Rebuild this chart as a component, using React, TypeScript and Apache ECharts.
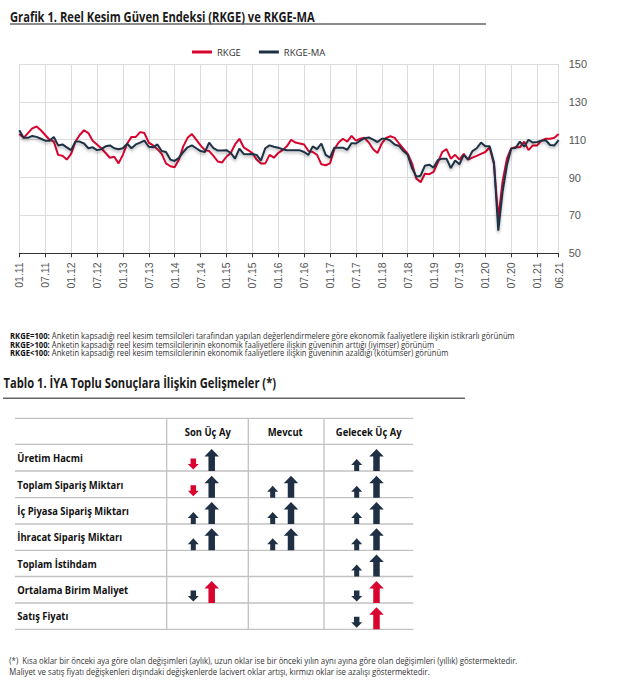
import React, { useEffect, useRef } from 'react';
import * as echarts from 'echarts';

// ---------- DATA ----------
const categories: string[] = [];
for (let y = 11; y <= 21; y++) {
  for (let m = 1; m <= 12; m++) {
    if (y === 21 && m > 6) break;
    categories.push(`${String(m).padStart(2, '0')}.${y}`);
  }
}

const rkge = [
  113.0, 111.0, 113.5, 116.0, 117.0, 115.0, 112.5, 110.0, 109.0, 102.0, 101.5, 99.5,
  102.5, 109.0, 112.5, 115.0, 113.5, 109.5, 107.5, 105.5, 103.0, 100.5, 101.0, 97.5,
  102.0, 108.0, 111.5, 111.5, 114.0, 113.5, 108.5, 107.0, 105.0, 102.5, 97.5, 96.0,
  95.5, 99.5, 106.5, 111.0, 113.0, 110.0, 107.0, 104.5, 104.0, 101.5, 98.5, 98.0,
  101.0, 103.0, 107.5, 110.5, 106.0, 104.5, 103.0, 99.5, 97.5, 97.5, 102.0, 100.5,
  103.0, 104.5, 106.5, 110.0, 108.5, 108.0, 107.5, 104.0, 103.5, 102.0, 97.0, 96.5,
  97.5, 105.0, 108.5, 110.5, 109.0, 112.0, 109.5, 110.5, 111.0, 108.5, 105.0, 103.0,
  108.0, 111.0, 111.8, 111.0, 108.0, 105.3, 102.6, 97.5, 89.5, 87.5, 92.0, 91.8,
  93.0, 98.0, 103.5, 105.0, 100.0, 102.0, 99.5, 102.5, 99.5, 100.5, 101.5, 102.5,
  103.5, 106.0, 97.0, 68.5, 88.0, 100.0, 105.5, 106.0, 106.0, 109.0, 104.5, 107.0,
  107.0, 109.5, 110.5, 110.5, 111.0, 113.0,
];

const rkgeMA = [
  115.0, 111.0, 111.0, 112.0, 111.5, 110.5, 109.5, 109.5, 111.5, 107.0, 107.5, 106.0,
  104.5, 109.0, 109.0, 108.0, 105.5, 106.0, 104.5, 105.0, 106.5, 107.0, 105.5, 105.0,
  105.5, 107.9, 105.5, 107.5, 108.5, 109.5, 106.3, 106.0, 107.5, 104.0, 103.5, 99.5,
  98.8, 100.5, 103.5, 106.0, 107.0, 105.5, 104.0, 103.5, 108.5, 105.5, 104.3, 104.3,
  104.5, 103.0, 100.0, 105.3, 102.5, 102.3, 102.5, 102.0, 99.0, 105.5, 107.0, 106.3,
  105.8, 105.0, 104.4, 104.5, 104.5, 104.4, 103.5, 102.0, 106.5, 105.0, 108.0, 102.0,
  100.5, 105.8, 105.8, 105.8, 104.7, 108.2, 108.0, 109.5, 110.8, 111.2, 110.0, 108.8,
  110.5, 110.5, 109.5, 107.5, 106.7, 104.0, 102.0, 95.0, 90.5, 91.0, 96.3, 96.8,
  95.3, 99.3, 100.0, 100.0, 95.0, 99.0, 97.0, 102.0, 99.5, 104.0, 105.5, 108.5,
  106.5, 106.5, 98.0, 62.0, 82.5, 96.5, 105.3, 105.6, 109.0, 106.3, 110.0, 108.5,
  108.8, 109.5, 109.7, 107.2, 107.0, 109.8,
];

const yMin = 50;
const yMax = 150;
const yInterval = 20;

const chartTitle = 'Grafik 1. Reel Kesim Güven Endeksi (RKGE) ve RKGE-MA';
const tableTitle = 'Tablo 1. İYA Toplu Sonuçlara İlişkin Gelişmeler (*)';

const notes: [string, string][] = [
  ['RKGE=100:', ' Anketin kapsadığı reel kesim temsilcileri tarafından yapılan değerlendirmelere göre ekonomik faaliyetlere ilişkin istikrarlı görünüm'],
  ['RKGE>100:', ' Anketin kapsadığı reel kesim temsilcilerinin ekonomik faaliyetlere ilişkin güveninin arttığı (iyimser) görünüm'],
  ['RKGE<100:', ' Anketin kapsadığı reel kesim temsilcilerinin ekonomik faaliyetlere ilişkin güveninin azaldığı (kötümser) görünüm'],
];

const columnHeaders = ['Son Üç Ay', 'Mevcut', 'Gelecek Üç Ay'];
const rowLabels = [
  'Üretim Hacmi',
  'Toplam Sipariş Miktarı',
  'İç Piyasa Sipariş Miktarı',
  'İhracat Sipariş Miktarı',
  'Toplam İstihdam',
  'Ortalama Birim Maliyet',
  'Satış Fiyatı',
];
// cell = "short/long": u=up d=down, N=navy R=red ; '' = empty
const tableCells = [
  ['dR/uN', '', 'uN/uN'],
  ['dR/uN', 'uN/uN', 'uN/uN'],
  ['uN/uN', 'uN/uN', 'uN/uN'],
  ['uN/uN', 'uN/uN', 'uN/uN'],
  ['', '', 'uN/uN'],
  ['dN/uR', '', 'dN/uR'],
  ['', '', 'dN/uR'],
];

const footnotes = [
  '(*)  Kısa oklar bir önceki aya göre olan değişimleri (aylık), uzun oklar ise bir önceki yılın aynı ayına göre olan değişimleri (yıllık) göstermektedir.',
  'Maliyet ve satış fiyatı değişkenleri dışındaki değişkenlerde lacivert oklar artışı, kırmızı oklar ise azalışı göstermektedir.',
];

// ---------- STYLE ----------
const RED = '#d9042e';
const NAVY = '#1f3044';
const FONT = '"Open Sans"';

let ctx: CanvasRenderingContext2D | null = null;
function measure(text: string, font: string): number {
  if (!ctx) ctx = document.createElement('canvas').getContext('2d');
  ctx!.font = font;
  return ctx!.measureText(text).width;
}

function arrowPoints(cx: number, bottom: number, dir: string, W: number, S: number, H: number, Hh: number) {
  const top = bottom - H;
  if (dir === 'u') {
    const neck = top + Hh;
    return [[cx - S / 2, bottom], [cx - S / 2, neck], [cx - W / 2, neck], [cx, top], [cx + W / 2, neck], [cx + S / 2, neck], [cx + S / 2, bottom]];
  }
  const neck = bottom - Hh;
  return [[cx - S / 2, top], [cx - S / 2, neck], [cx - W / 2, neck], [cx, bottom], [cx + W / 2, neck], [cx + S / 2, neck], [cx + S / 2, top]];
}

function txt(text: string, x: number, y: number, font: string, fill: string, scaleX: number, align = 'left') {
  return {
    type: 'text',
    x,
    y,
    scaleX,
    silent: true,
    style: { text, font, fill, align, verticalAlign: 'middle', textAlign: align, textVerticalAlign: 'middle' },
  };
}

function buildGraphics() {
  const g: any[] = [];
  const titleFont = `bold 14px ${FONT}`;
  const titleScale = 305 / measure(chartTitle, titleFont);
  g.push(txt(chartTitle, 10, 16, titleFont, '#1a1a1a', titleScale));
  g.push({ type: 'line', shape: { x1: 10, y1: 24, x2: 486, y2: 24 }, style: { stroke: '#666', lineWidth: 1.5 } });

  // notes
  const nb = `bold 9px ${FONT}`;
  const nn = `9px ${FONT}`;
  const noteScale = 505 / (measure(notes[0][0], nb) + measure(notes[0][1], nn));
  const noteY = [335.7, 344.0, 352.3];
  notes.forEach((n, i) => {
    g.push(txt(n[0], 10, noteY[i], nb, '#111', noteScale));
    const w = measure(n[0], nb) * noteScale;
    g.push(txt(n[1], 10 + w, noteY[i], nn, '#333', noteScale));
  });

  // table title
  g.push(txt(tableTitle, 3.5, 382.3, titleFont, '#1a1a1a', titleScale));
  g.push({ type: 'line', shape: { x1: 3, y1: 398.3, x2: 465, y2: 398.3 }, style: { stroke: '#666', lineWidth: 1.5 } });

  // table grid
  const rowLines = [418.3, 444.3, 471, 497.7, 524, 550.3, 576.5, 603, 629.3];
  const colLines = [166.7, 248.3, 324];
  const tLeft = 15, tRight = 413.3;
  rowLines.forEach((y) => g.push({ type: 'line', shape: { x1: tLeft, y1: y, x2: tRight, y2: y }, style: { stroke: '#c2c2c2', lineWidth: 1.3 } }));
  colLines.forEach((x) => g.push({ type: 'line', shape: { x1: x, y1: rowLines[0], x2: x, y2: rowLines[rowLines.length - 1] }, style: { stroke: '#c2c2c2', lineWidth: 1.3 } }));

  const lf = `bold 10.5px ${FONT}`;
  const labelScale = 111 / measure('Ortalama Birim Maliyet', lf);
  const headerX = [207.8, 285.2, 368.7];
  columnHeaders.forEach((h, i) => g.push(txt(h, headerX[i], 431.7, lf, '#111', labelScale, 'center')));
  rowLabels.forEach((r, i) => {
    const yc = (rowLines[i + 1] + rowLines[i + 2]) / 2;
    g.push(txt(r, 17.3, yc, lf, '#111', labelScale));
  });

  const smallX = [193.3, 272.7, 356.7];
  const bigX = [211.7, 291, 376.5];
  tableCells.forEach((row, ri) => {
    const bottom = rowLines[ri + 2];
    row.forEach((cell, ci) => {
      if (!cell) return;
      const [s, l] = cell.split('/');
      const sDir = s[0], sCol = s[1] === 'R' ? RED : NAVY;
      const lDir = l[0], lCol = l[1] === 'R' ? RED : NAVY;
      const sp = sDir === 'u'
        ? arrowPoints(smallX[ci], bottom, 'u', 11, 5, 12, 6)
        : arrowPoints(smallX[ci], bottom - 1.5, 'd', 11, 5.5, 11, 5.5);
      g.push({ type: 'polygon', shape: { points: sp }, style: { fill: sCol }, silent: true });
      const lp = arrowPoints(bigX[ci], bottom, lDir, 14.5, 6.5, 22, 7.5);
      g.push({ type: 'polygon', shape: { points: lp }, style: { fill: lCol }, silent: true });
    });
  });

  // footnotes
  const ff = `9px ${FONT}`;
  const footScale = 509 / measure(footnotes[0], ff);
  g.push(txt(footnotes[0], 9.3, 660.7, ff, '#333', footScale));
  g.push(txt(footnotes[1], 9.3, 671.7, ff, '#333', footScale));
  return g;
}

function buildOption(): any {
  const lastIdx = categories.length - 1;
  const show = (idx: number) => idx % 6 === 0 || idx === lastIdx;
  return {
    animation: false,
    backgroundColor: '#ffffff',
    legend: {
      left: 187,
      top: 42,
      itemWidth: 20,
      itemHeight: 3,
      itemGap: 18,
      icon: 'rect',
      textStyle: { fontSize: 9.5, color: '#333', fontFamily: 'Open Sans' },
      data: ['RKGE', 'RKGE-MA'],
    },
    grid: { left: 19.3, right: 65.3, top: 64, bottom: 427.7, containLabel: false },
    xAxis: {
      type: 'category',
      data: categories,
      boundaryGap: false,
      axisLine: { lineStyle: { color: '#333', width: 1 } },
      axisTick: { show: true, interval: show, length: 4, lineStyle: { color: '#333' } },
      axisLabel: {
        interval: show,
        rotate: 90,
        margin: 9,
        fontSize: 10.5,
        color: '#555',
        fontFamily: 'Liberation Sans',
      },
      splitLine: { show: true, interval: show, lineStyle: { color: '#dcdcdc', width: 1 } },
    },
    yAxis: {
      type: 'value',
      position: 'right',
      min: yMin,
      max: yMax,
      interval: yInterval,
      axisLine: { show: false },
      axisTick: { show: false },
      axisLabel: { margin: 10, fontSize: 11, color: '#555', fontFamily: 'Liberation Sans' },
      splitLine: { lineStyle: { color: '#dcdcdc', width: 1 } },
    },
    series: [
      {
        name: 'RKGE',
        type: 'line',
        data: rkge,
        symbol: 'none',
        color: RED,
        lineStyle: { color: RED, width: 2 },
        z: 2,
      },
      {
        name: 'RKGE-MA',
        type: 'line',
        data: rkgeMA,
        symbol: 'none',
        color: NAVY,
        lineStyle: { color: NAVY, width: 2, shadowColor: 'rgba(0,0,0,0.3)', shadowBlur: 3, shadowOffsetY: 2 },
        z: 3,
      },
    ],
    graphic: buildGraphics(),
  };
}

export default function App() {
  const ref = useRef<HTMLDivElement>(null);
  useEffect(() => {
    const chart = echarts.init(ref.current!, null, { renderer: 'svg' });
    chart.setOption(buildOption());
    return () => chart.dispose();
  }, []);
  return (
    <div
      ref={ref}
      style={{ position: 'fixed', left: 0, top: 0, width: 624, height: 681, background: '#fff' }}
    />
  );
}
